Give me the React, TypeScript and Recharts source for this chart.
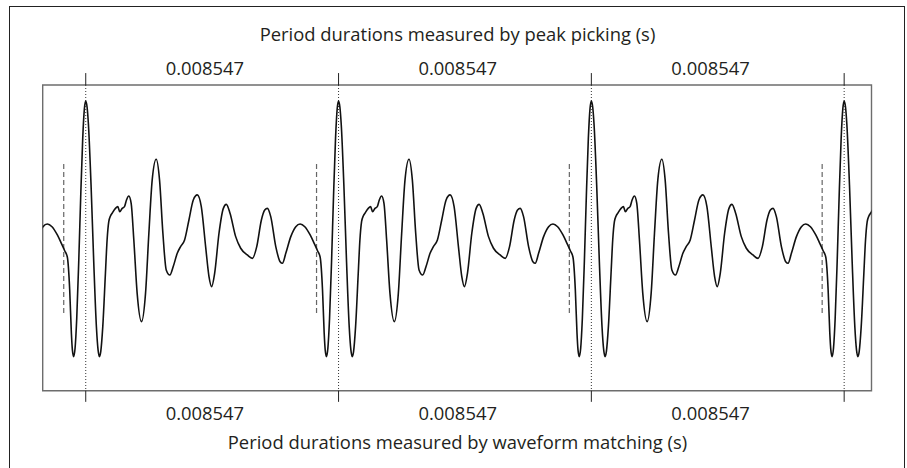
import React from 'react';
import { LineChart, Line, XAxis, YAxis, ReferenceLine, ReferenceArea, Label } from 'recharts';

// ---- data ----
const PERIOD_S = 0.008547;
const X_DOMAIN: [number, number] = [0, 0.02802];
const Y_DOMAIN: [number, number] = [-1, 1];

// times of the peaks (peak picking) and of the waveform-matching marks (s)
const peakTimes = [0.001455, 0.010002, 0.018549, 0.027096];
const matchTimes = [0.000711, 0.009258, 0.017805, 0.026352];

// positions of the period-duration labels (s)
const labelTimes = [0.005484, 0.014031, 0.022578];
const topPeriodLabels = ['0.008547', '0.008547', '0.008547'];
const bottomPeriodLabels = ['0.008547', '0.008547', '0.008547'];

const topTitle = 'Period durations measured by peak picking (s)';
const bottomTitle = 'Period durations measured by waveform matching (s)';

// one period of the waveform, phase 0 = peak (fraction of a period), amplitude
const periodPhase = [
  0, 0.0053, 0.0106, 0.0211, 0.0317, 0.0423, 0.0489, 0.0542, 0.0594, 0.0674,
  0.0779, 0.0845, 0.0911, 0.0978, 0.1044, 0.1176, 0.1268, 0.1347, 0.144, 0.1532,
  0.1612, 0.1704, 0.1797, 0.1902, 0.2034, 0.2206, 0.2365, 0.2497, 0.2629, 0.2787,
  0.2919, 0.3052, 0.3184, 0.3329, 0.3461, 0.362, 0.3752, 0.391, 0.4082, 0.4254,
  0.4412, 0.4571, 0.4742, 0.4875, 0.498, 0.5099, 0.5271, 0.5443, 0.5561, 0.5707,
  0.5931, 0.6129, 0.6394, 0.6592, 0.6764, 0.6948, 0.7081, 0.7186, 0.7318, 0.7517,
  0.7688, 0.7781, 0.7913, 0.8111, 0.8309, 0.8481, 0.8666, 0.8877, 0.9036, 0.9168,
  0.9273, 0.9366, 0.9432, 0.9472, 0.9524, 0.9577, 0.9643, 0.9723, 0.9802, 0.9881,
  0.9947,
];
const periodAmp = [
  0.895, 0.856, 0.743, 0.342, -0.160, -0.585, -0.735, -0.777, -0.744, -0.581,
  -0.232, -0.014, 0.106, 0.143, 0.161, 0.193, 0.204, 0.171, 0.193, 0.204,
  0.248, 0.274, 0.226, -0.014, -0.363, -0.548, -0.363, 0.030, 0.379, 0.514,
  0.379, 0.030, -0.210, -0.243, -0.188, -0.101, -0.057, -0.014, 0.117, 0.248,
  0.281, 0.204, -0.057, -0.253, -0.319, -0.232, 0.030, 0.193, 0.219, 0.161,
  0.008, -0.068, -0.112, -0.134, -0.057, 0.117, 0.182, 0.193, 0.139, -0.057,
  -0.156, -0.166, -0.101, 0.008, 0.073, 0.091, 0.073, 0.019, -0.036, -0.084,
  -0.127, -0.341, -0.624, -0.733, -0.777, -0.724, -0.531, -0.156, 0.276, 0.651,
  0.845,
];

// the signal is the recorded period repeated at each picked peak
const anchors = [peakTimes[0] - PERIOD_S, ...peakTimes];
const data = anchors.flatMap((p) =>
  periodPhase.map((ph, i) => ({ t: p + ph * PERIOD_S, amp: periodAmp[i] }))
);

const FONT = '"Open Sans", sans-serif';
const TEXT = '#231f20';
const FS = 18.4;

const TopTick = (props: any) => {
  const { x, index } = props;
  return (
    <text x={x} y={75.3} textAnchor="middle" fontFamily={FONT} fontSize={FS} fill={TEXT}>
      {topPeriodLabels[index]}
    </text>
  );
};

const BottomTick = (props: any) => {
  const { x, index } = props;
  return (
    <text x={x} y={419.7} textAnchor="middle" fontFamily={FONT} fontSize={FS} fill={TEXT}>
      {bottomPeriodLabels[index]}
    </text>
  );
};

const TopTitle = () => (
  <text x={457.5} y={40.7} textAnchor="middle" fontFamily={FONT} fontSize={FS} fill={TEXT}>
    {topTitle}
  </text>
);

const BottomTitle = () => (
  <text x={457.5} y={449} textAnchor="middle" fontFamily={FONT} fontSize={FS} fill={TEXT}>
    {bottomTitle}
  </text>
);

export default function App() {
  return (
    <div style={{ position: 'absolute', left: 0, top: 0, width: 907, height: 468, overflow: 'hidden', background: '#fff' }}>
      <div
        style={{
          position: 'absolute',
          left: 9,
          top: 6,
          width: 894,
          height: 500,
          border: '1px solid #222',
        }}
      />
      <div style={{ position: 'absolute', left: 0, top: 0 }}>
        <LineChart width={907} height={468} data={data} margin={{ top: 0, right: 35.5, bottom: 0, left: 42.7 }}>
          <XAxis
            xAxisId="top"
            orientation="top"
            type="number"
            dataKey="t"
            domain={X_DOMAIN}
            allowDataOverflow
            height={85}
            ticks={labelTimes}
            interval={0}
            tickSize={0}
            tickLine={false}
            axisLine={false}
            tick={<TopTick />}
          >
            <Label content={<TopTitle />} />
          </XAxis>
          <XAxis
            xAxisId="bottom"
            orientation="bottom"
            type="number"
            dataKey="t"
            domain={X_DOMAIN}
            allowDataOverflow
            height={77.3}
            ticks={labelTimes}
            interval={0}
            tickSize={0}
            tickLine={false}
            axisLine={false}
            tick={<BottomTick />}
          >
            <Label content={<BottomTitle />} />
          </XAxis>
          <YAxis hide type="number" domain={Y_DOMAIN} allowDataOverflow />

          <ReferenceArea
            xAxisId="bottom"
            x1={X_DOMAIN[0]}
            x2={X_DOMAIN[1]}
            y1={Y_DOMAIN[0]}
            y2={Y_DOMAIN[1]}
            fill="none"
            fillOpacity={0}
            stroke="#6d6d6d"
            strokeWidth={1.4}
            ifOverflow="visible"
          />

          {peakTimes.map((p, i) => (
            <ReferenceLine
              key={'pd' + i}
              xAxisId="bottom"
              segment={[{ x: p, y: 1 }, { x: p, y: -1 }]}
              stroke="#333"
              strokeWidth={1}
              strokeDasharray="1 2"
              ifOverflow="visible"
            />
          ))}
          {peakTimes.map((p, i) => (
            <ReferenceLine
              key={'pt' + i}
              xAxisId="bottom"
              segment={[{ x: p, y: 1.078 }, { x: p, y: 1 }]}
              stroke="#222"
              strokeWidth={1}
              ifOverflow="visible"
            />
          ))}
          {peakTimes.map((p, i) => (
            <ReferenceLine
              key={'pb' + i}
              xAxisId="bottom"
              segment={[{ x: p, y: -1 }, { x: p, y: -1.073 }]}
              stroke="#222"
              strokeWidth={1}
              ifOverflow="visible"
            />
          ))}
          {matchTimes.map((m, i) => (
            <ReferenceLine
              key={'m' + i}
              xAxisId="bottom"
              segment={[{ x: m, y: 0.483 }, { x: m, y: -0.504 }]}
              stroke="#666"
              strokeWidth={1.2}
              strokeDasharray="5 3"
              ifOverflow="visible"
            />
          ))}

          <Line
            xAxisId="bottom"
            type="monotone"
            dataKey="amp"
            stroke="#111"
            strokeWidth={1.6}
            dot={false}
            isAnimationActive={false}
          />
        </LineChart>
      </div>
    </div>
  );
}
